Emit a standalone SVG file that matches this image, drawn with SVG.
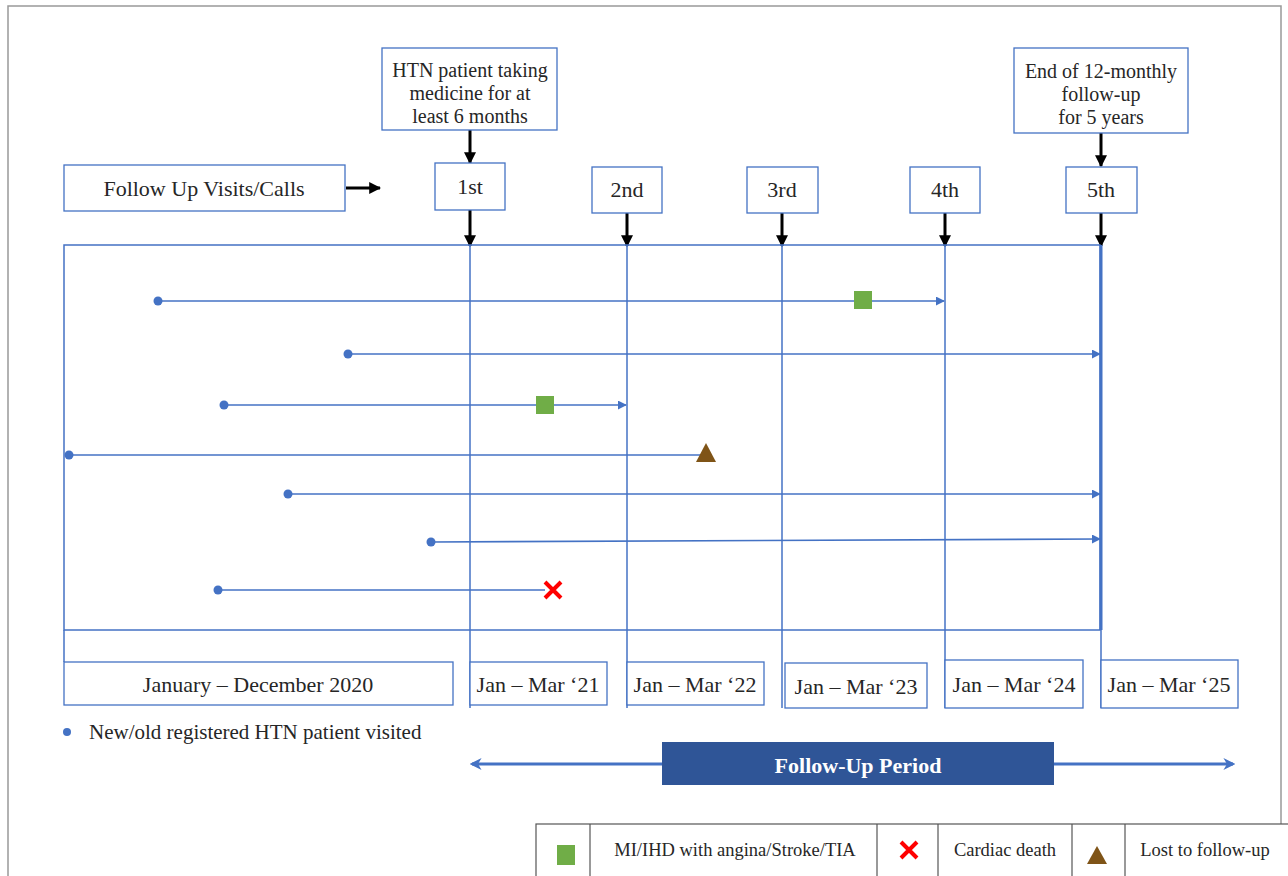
<svg xmlns="http://www.w3.org/2000/svg" width="1288" height="876" viewBox="0 0 1288 876">
<defs>
<style>
.box{fill:#fff;stroke:#4472C4;stroke-width:1.3}
.t{font-family:"Liberation Serif","DejaVu Serif",serif;font-size:22px;fill:#262626;text-anchor:middle}
.s20{font-size:20px}
.bl{stroke:#4472C4;stroke-width:1.5;fill:none}
.blk{stroke:#000;stroke-width:3;fill:none}
.pl{stroke:#4472C4;stroke-width:1.6;fill:none}
.dot{fill:#4472C4}
.grn{fill:#70AD47}
.x{stroke:#FF0000;stroke-width:4;fill:none}
.tri{fill:#7F5417}
.lg{fill:#fff;stroke:#555;stroke-width:1.2}
.lt{font-size:18.5px}
</style>
<marker id="ab" viewBox="0 0 10 10" refX="9" refY="5" markerWidth="4" markerHeight="4" orient="auto"><path d="M0,0L10,5L0,10z" fill="#000"/></marker>
<marker id="ap" viewBox="0 0 10 10" refX="9" refY="5" markerWidth="9" markerHeight="9" markerUnits="userSpaceOnUse" orient="auto"><path d="M0,0L10,5L0,10z" fill="#4472C4"/></marker>
<marker id="ap2" viewBox="0 0 10 10" refX="8" refY="5" markerWidth="4" markerHeight="4" orient="auto-start-reverse"><path d="M0,0L10,5L0,10L3,5z" fill="#4472C4"/></marker>
</defs>
<rect x="8" y="6" width="1273" height="880" fill="#fff" stroke="#999" stroke-width="1.5"/>

<g id="connectors">
<line class="blk" x1="470" y1="130" x2="470" y2="163" marker-end="url(#ab)"/>
<line class="blk" x1="1101" y1="133" x2="1101" y2="166" marker-end="url(#ab)"/>
<line class="blk" x1="346" y1="188" x2="380" y2="188" marker-end="url(#ab)"/>
<line class="blk" x1="470" y1="210" x2="470" y2="246" marker-end="url(#ab)"/>
<line class="blk" x1="627" y1="213" x2="627" y2="246" marker-end="url(#ab)"/>
<line class="blk" x1="782" y1="213" x2="782" y2="246" marker-end="url(#ab)"/>
<line class="blk" x1="945" y1="213" x2="945" y2="246" marker-end="url(#ab)"/>
<line class="blk" x1="1101" y1="213" x2="1101" y2="246" marker-end="url(#ab)"/>
</g>

<g id="timeline">
<rect x="64" y="245" width="1036" height="385" class="bl"/>
<line class="bl" x1="470" y1="245" x2="470" y2="708"/>
<line class="bl" x1="627" y1="245" x2="627" y2="708"/>
<line class="bl" x1="782" y1="245" x2="782" y2="708"/>
<line class="bl" x1="945" y1="245" x2="945" y2="708"/>
<line x1="1101" y1="245" x2="1101" y2="630" stroke="#4472C4" stroke-width="3"/>
<line class="bl" x1="1101" y1="630" x2="1101" y2="708"/>
<line class="bl" x1="64" y1="630" x2="64" y2="662"/>
</g>

<g id="patients">
<line class="pl" x1="158" y1="301" x2="944" y2="301" marker-end="url(#ap)"/>
<circle class="dot" cx="158" cy="301" r="4.5"/>
<rect class="grn" x="854" y="291" width="18" height="18"/>
<line class="pl" x1="348" y1="354" x2="1100" y2="354" marker-end="url(#ap)"/>
<circle class="dot" cx="348" cy="354" r="4.5"/>
<line class="pl" x1="224" y1="405" x2="626" y2="405" marker-end="url(#ap)"/>
<circle class="dot" cx="224" cy="405" r="4.5"/>
<rect class="grn" x="536" y="396" width="18" height="18"/>
<line class="pl" x1="69" y1="455" x2="706" y2="455"/>
<circle class="dot" cx="69" cy="455" r="4.5"/>
<path class="tri" d="M706,443L716,462L696,462z"/>
<line class="pl" x1="288" y1="494" x2="1100" y2="494" marker-end="url(#ap)"/>
<circle class="dot" cx="288" cy="494" r="4.5"/>
<line class="pl" x1="431" y1="542" x2="1100" y2="539" marker-end="url(#ap)"/>
<circle class="dot" cx="431" cy="542" r="4.5"/>
<line class="pl" x1="218" y1="590" x2="545" y2="590"/>
<circle class="dot" cx="218" cy="590" r="4.5"/>
<path class="x" d="M545,582L561,598M561,582L545,598"/>
</g>

<g id="top-box-1">
<rect class="box" x="382" y="48" width="175" height="82"/>
<text class="t s20" x="470" y="77">HTN patient taking</text>
<text class="t s20" x="470" y="100">medicine for at</text>
<text class="t s20" x="470" y="123">least 6 months</text>
</g>
<g id="top-box-2">
<rect class="box" x="1014" y="48" width="174" height="85"/>
<text class="t s20" x="1101" y="78">End of 12-monthly</text>
<text class="t s20" x="1101" y="101">follow-up</text>
<text class="t s20" x="1101" y="124">for 5 years</text>
</g>
<g id="visits-label">
<rect class="box" x="64" y="165" width="281" height="46"/>
<text class="t" x="204" y="196">Follow Up Visits/Calls</text>
</g>
<g id="v1"><rect class="box" x="435" y="163" width="70" height="47"/><text class="t" x="470" y="194">1st</text></g>
<g id="v2"><rect class="box" x="592" y="167" width="70" height="46"/><text class="t" x="627" y="197">2nd</text></g>
<g id="v3"><rect class="box" x="747" y="167" width="71" height="46"/><text class="t" x="782" y="197">3rd</text></g>
<g id="v4"><rect class="box" x="910" y="167" width="70" height="46"/><text class="t" x="945" y="197">4th</text></g>
<g id="v5"><rect class="box" x="1066" y="167" width="71" height="46"/><text class="t" x="1101" y="197">5th</text></g>

<g id="p2020"><rect class="box" x="64" y="662" width="389" height="43"/><text class="t" x="258" y="692">January – December 2020</text></g>
<g id="p21"><rect class="box" x="470" y="662" width="137" height="43"/><text class="t" x="538" y="692">Jan – Mar ‘21</text></g>
<g id="p22"><rect class="box" x="627" y="662" width="137" height="43"/><text class="t" x="695" y="692">Jan – Mar ‘22</text></g>
<g id="p23"><rect class="box" x="785" y="663" width="142" height="45"/><text class="t" x="856" y="694">Jan – Mar ‘23</text></g>
<g id="p24"><rect class="box" x="945" y="660" width="138" height="48"/><text class="t" x="1014" y="692">Jan – Mar ‘24</text></g>
<g id="p25"><rect class="box" x="1101" y="660" width="137" height="48"/><text class="t" x="1169" y="692">Jan – Mar ‘25</text></g>

<g id="dot-legend">
<circle class="dot" cx="67" cy="732" r="4"/>
<text class="t" x="89" y="739" style="text-anchor:start;font-size:21px">New/old registered  HTN patient visited</text>
</g>

<g id="follow-up-period">
<line x1="472" y1="764" x2="1233" y2="764" stroke="#4472C4" stroke-width="3" marker-start="url(#ap2)" marker-end="url(#ap2)"/>
<rect x="662" y="742" width="392" height="43" fill="#2F5597"/>
<text x="858" y="773" style="font-family:'Liberation Serif',serif;font-size:22px;font-weight:bold;fill:#fff;text-anchor:middle">Follow-Up Period</text>
</g>

<g id="legend">
<rect class="lg" x="536" y="824" width="760" height="60"/>
<line stroke="#555" stroke-width="1.2" x1="590" y1="824" x2="590" y2="876"/>
<line stroke="#555" stroke-width="1.2" x1="877" y1="824" x2="877" y2="876"/>
<line stroke="#555" stroke-width="1.2" x1="938" y1="824" x2="938" y2="876"/>
<line stroke="#555" stroke-width="1.2" x1="1072" y1="824" x2="1072" y2="876"/>
<line stroke="#555" stroke-width="1.2" x1="1125" y1="824" x2="1125" y2="876"/>
<rect class="grn" x="557" y="845" width="18" height="20"/>
<text class="t lt" x="735" y="856">MI/IHD with angina/Stroke/TIA</text>
<path class="x" d="M901,842L917,858M917,842L901,858"/>
<text class="t lt" x="1005" y="856">Cardiac death</text>
<path class="tri" d="M1097,846L1107,864L1087,864z"/>
<text class="t lt" x="1205" y="856">Lost to follow-up</text>
</g>
</svg>
